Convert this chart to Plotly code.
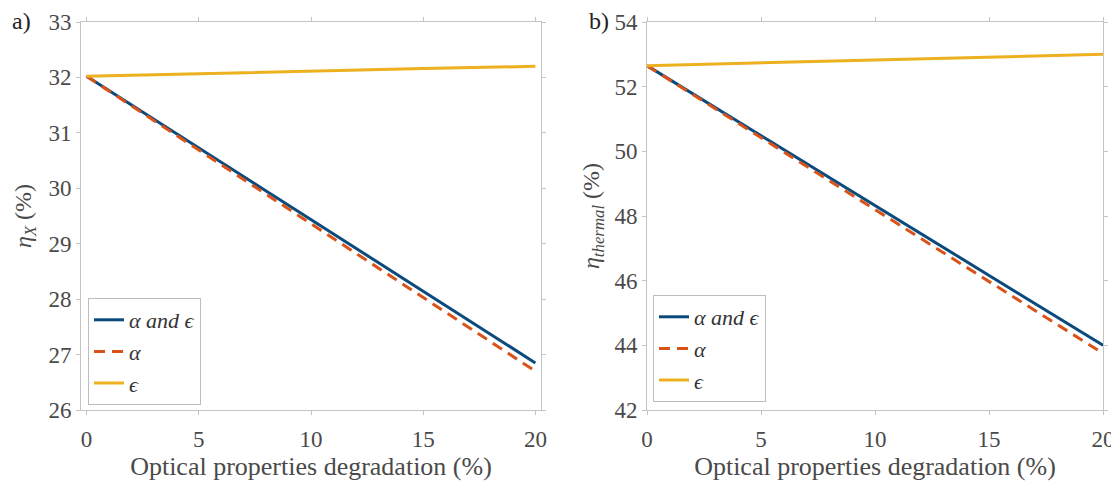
import plotly.graph_objects as go

# Data
degradation = [0, 5, 10, 15, 20]

# Panel a) eta_X (%)
a_alpha_eps = [32.02, 30.73, 29.44, 28.14, 26.85]
a_alpha = [32.02, 30.69, 29.36, 28.03, 26.70]
a_eps = [32.02, 32.07, 32.11, 32.16, 32.20]

# Panel b) eta_thermal (%)
b_alpha_eps = [52.65, 50.49, 48.33, 46.16, 44.00]
b_alpha = [52.65, 50.43, 48.20, 45.98, 43.75]
b_eps = [52.65, 52.74, 52.83, 52.91, 53.00]

labels = ["<i>α and ϵ</i>", "<i>α</i>", "<i>ϵ</i>"]
colors = ["#0b4a7d", "#D95319", "#EDB120"]
dashes = ["solid", "11px,7px", "solid"]

FONT = "Liberation Serif, DejaVu Serif, serif"
TXT = "#4a4a4a"
AX = "#c4c4c4"

# page has an 8px body margin; figure sized to fit the 1119x483 window
W, H = 1111, 475


def px(xp):
    return (xp - 8) / W


def py(yp):
    return 1 - (yp - 8) / H


fig = go.Figure()

for series, lab, col, dsh in zip([a_alpha_eps, a_alpha, a_eps], labels, colors, dashes):
    fig.add_trace(go.Scatter(x=degradation, y=series, mode="lines", name=lab,
                             line=dict(color=col, width=3, dash=dsh),
                             xaxis="x", yaxis="y", legend="legend"))
for series, lab, col, dsh in zip([b_alpha_eps, b_alpha, b_eps], labels, colors, dashes):
    fig.add_trace(go.Scatter(x=degradation, y=series, mode="lines", name=lab,
                             line=dict(color=col, width=3, dash=dsh),
                             xaxis="x2", yaxis="y2", legend="legend2"))

axis_common = dict(showline=True, linecolor=AX, linewidth=1, mirror="ticks",
                   ticks="outside", ticklen=4, tickcolor=AX, showgrid=False,
                   zeroline=False, automargin=False,
                   tickfont=dict(family=FONT, size=23, color=TXT))

xtitle = dict(text="Optical properties degradation (%)", font=dict(family=FONT, size=26, color=TXT), standoff=2)

fig.update_layout(
    width=W, height=H,
    margin=dict(l=0, r=0, t=0, b=0, autoexpand=False),
    paper_bgcolor="white", plot_bgcolor="white",
    showlegend=True,
    xaxis=dict(domain=[px(81), px(541)], range=[-0.25, 20.25], tickvals=[0, 5, 10, 15, 20],
               title=xtitle, anchor="y", ticklabelstandoff=4, **axis_common),
    yaxis=dict(domain=[py(410), py(22)], range=[26, 33], dtick=1, anchor="x",
               title=dict(text="<i>η<sub>X</sub></i> (%)", font=dict(family=FONT, size=24, color=TXT), standoff=10),
               **axis_common),
    xaxis2=dict(domain=[px(647), px(1103)], range=[0, 20], tickvals=[0, 5, 10, 15, 20],
                title=xtitle, anchor="y2", ticklabelstandoff=4, **axis_common),
    yaxis2=dict(domain=[py(410), py(22)], range=[42, 54], dtick=2, anchor="x2",
                title=dict(text="<i>η<sub>thermal</sub></i> (%)", font=dict(family=FONT, size=24, color=TXT), standoff=8),
                **axis_common),
    legend=dict(x=px(88), y=py(405), xanchor="left", yanchor="bottom",
                bgcolor="white", bordercolor="#bdbdbd", borderwidth=1,
                font=dict(family=FONT, size=22, color="#333"), tracegroupgap=0,
                itemwidth=30),
    legend2=dict(x=px(653), y=py(402), xanchor="left", yanchor="bottom",
                 bgcolor="white", bordercolor="#bdbdbd", borderwidth=1,
                 font=dict(family=FONT, size=22, color="#333"), tracegroupgap=0,
                 itemwidth=30),
    annotations=[
        dict(text="a)", x=px(10), y=py(6), xref="paper", yref="paper", xanchor="left", yanchor="top",
             showarrow=False, font=dict(family=FONT, size=24, color="#222")),
        dict(text="b)", x=px(587), y=py(6), xref="paper", yref="paper", xanchor="left", yanchor="top",
             showarrow=False, font=dict(family=FONT, size=24, color="#222")),
    ],
)

fig.write_html("out.html")
